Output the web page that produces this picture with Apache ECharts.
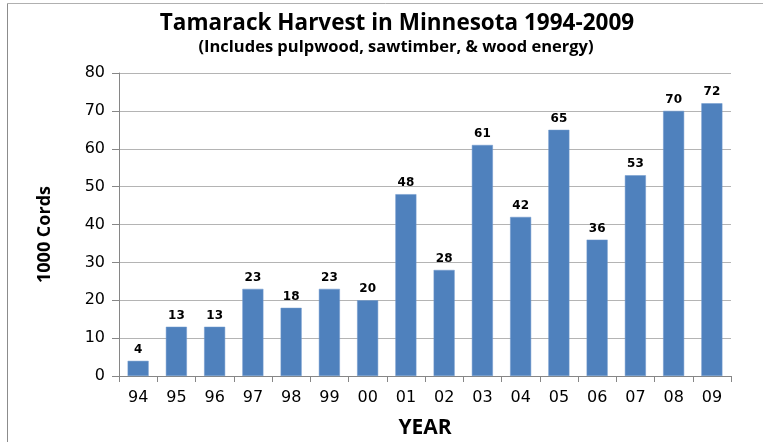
<!DOCTYPE html>
<html>
<head>
<meta charset="utf-8">
<script src="https://cdn.jsdelivr.net/npm/echarts@6/dist/echarts.min.js"></script>
<style>
  html, body { margin: 0; padding: 0; background: #fff; }
  #chart { width: 763px; height: 442px; }
</style>
</head>
<body>
<div id="chart"></div>
<script>
// Tamarack harvest by year (thousand cords)
const years = ['94','95','96','97','98','99','00','01','02','03','04','05','06','07','08','09'];
const cords = [4, 13, 13, 23, 18, 23, 20, 48, 28, 61, 42, 65, 36, 53, 70, 72];
const yTicks = { min: 0, max: 80, step: 10 };

const titleText = 'Tamarack Harvest in Minnesota 1994-2009';
const subtitleText = '(Includes pulpwood, sawtimber, & wood energy)';

const chart = echarts.init(document.getElementById('chart'), null, { renderer: 'canvas' });

const axisGray = '#868686';
const headFont = '"Open Sans", sans-serif';

chart.setOption({
  animation: false,
  backgroundColor: '#ffffff',
  title: [
    {
      text: titleText,
      left: 392, top: 7, textAlign: 'center',
      textStyle: { fontFamily: headFont, fontWeight: 'bold', fontSize: 22.5, color: '#000' }
    },
    {
      text: subtitleText,
      left: 391, top: 34, textAlign: 'center',
      textStyle: { fontFamily: headFont, fontWeight: 'bold', fontSize: 16.5, color: '#000' }
    }
  ],
  graphic: [
    { type: 'line', shape: { x1: 7.5, y1: 3.5, x2: 763, y2: 3.5 }, style: { stroke: '#b0b0b0', lineWidth: 1 } },
    { type: 'line', shape: { x1: 7.5, y1: 3.5, x2: 7.5, y2: 442 }, style: { stroke: '#8c8c8c', lineWidth: 1 } }
  ],
  grid: { left: 119, right: 32, top: 73, bottom: 66, containLabel: false, outerBoundsMode: 'none' },
  xAxis: {
    type: 'category',
    data: years,
    name: 'YEAR',
    nameLocation: 'middle',
    nameGap: 42,
    nameTextStyle: { fontFamily: headFont, fontWeight: 'bold', fontSize: 21, color: '#000' },
    axisLine: { show: true, lineStyle: { color: axisGray, width: 1 } },
    axisTick: { show: true, alignWithLabel: false, length: 6, lineStyle: { color: axisGray } },
    axisLabel: { fontFamily: 'DejaVu Sans', fontSize: 16, color: '#000', margin: 14 }
  },
  yAxis: {
    type: 'value',
    min: yTicks.min, max: yTicks.max, interval: yTicks.step,
    name: '1000 Cords',
    nameLocation: 'middle',
    nameGap: 65,
    nameRotate: 90,
    nameTextStyle: { fontFamily: headFont, fontWeight: 'bold', fontSize: 18, color: '#000', padding: [0, 20, 0, 0] },
    axisLine: { show: true, lineStyle: { color: axisGray, width: 1 } },
    axisTick: { show: true, length: 7, lineStyle: { color: axisGray } },
    axisLabel: { fontFamily: 'DejaVu Sans', fontSize: 16, color: '#000', margin: 14 },
    splitLine: { show: true, lineStyle: { color: '#b4b4b4', width: 1 } }
  },
  series: [{
    type: 'bar',
    data: cords,
    barWidth: 21,
    itemStyle: { color: '#4F81BD', borderColor: '#6f98cc', borderWidth: 0.5 },
    label: {
      show: true, position: 'top', distance: 5,
      fontFamily: 'DejaVu Sans', fontWeight: 'bold', fontSize: 12, color: '#000'
    }
  }]
});
</script>
</body>
</html>
